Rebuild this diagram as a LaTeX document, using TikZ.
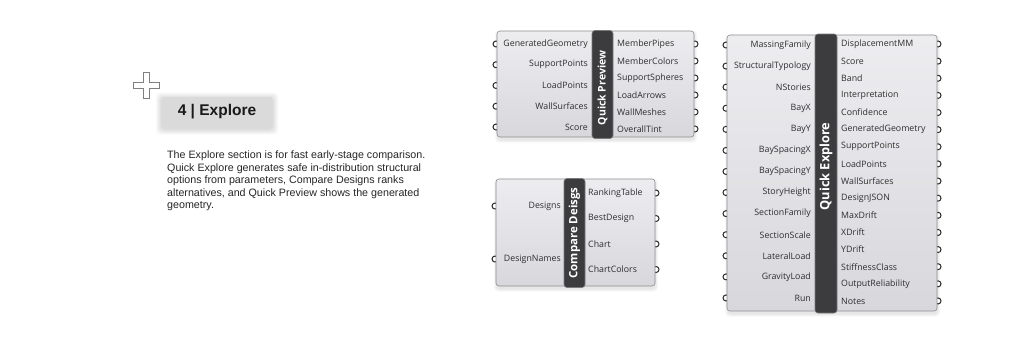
\documentclass[tikz,border=0pt]{standalone}
\usepackage{fontspec}
\setmainfont{Liberation Sans}
\newfontfamily\ghfont{Open Sans}
\definecolor{bodytop}{HTML}{EDEDF0}
\definecolor{bodybot}{HTML}{D8D8DC}
\definecolor{bodyline}{HTML}{8E8E92}
\definecolor{barfill}{HTML}{3C3C3E}
\definecolor{barline}{HTML}{7A7A7C}
\definecolor{labtext}{HTML}{2E2E31}
\definecolor{portline}{HTML}{2A2A2A}
\definecolor{titlebox}{HTML}{DADADA}
\begin{document}
\begin{tikzpicture}[x=1pt,y=-1pt,
  port/.style={circle,draw=portline,line width=1pt,fill=white,inner sep=0pt,minimum size=6pt},
  body/.style={draw=bodyline,line width=0.6pt,rounded corners=3pt,top color=bodytop,bottom color=bodybot,inner sep=0pt},
  namebar/.style={draw=barline,line width=0.6pt,rounded corners=3pt,fill=barfill,inner sep=0pt},
  bartext/.style={text=white,font=\ghfont\bfseries\fontsize{10.5}{12}\selectfont,rotate=90,inner sep=0pt},
  inlab/.style={anchor=east,text=labtext,font=\ghfont\fontsize{8.8}{10}\selectfont,inner sep=0pt},
  outlab/.style={anchor=west,text=labtext,font=\ghfont\fontsize{8.8}{10}\selectfont,inner sep=0pt}
]
\useasboundingbox (0,0) rectangle (1024,341);
\fill[white] (0,0) rectangle (1024,341);

% ---------- left text area ----------
\draw[black!50,line width=0.5pt] (143,72) -- (149,72) -- (149,82) -- (159,82) -- (159,88) -- (149,88) -- (149,98) -- (143,98) -- (143,88) -- (133,88) -- (133,82) -- (143,82) -- cycle;
\foreach \k in {1,...,6}{
  \fill[black,opacity=0.022,rounded corners=4pt] ({162-\k},{97-\k+1.5}) rectangle ({272+\k},{127+\k+1.5});
}
\node[fill=titlebox,minimum width=110pt,minimum height=30pt,inner sep=0pt] (titlebg) at (217,112) {};
\node[font=\bfseries\fontsize{15.5}{18}\selectfont,text=black!90] (title) at (titlebg) {4 | Explore};
\node[anchor=north west,align=left,inner sep=0pt,text=black!85,font=\fontsize{10.7}{12.5}\selectfont] (para) at (167,151)
{The Explore section is for fast early-stage comparison.\\
Quick Explore generates safe in-distribution structural\\
options from parameters, Compare Designs ranks\\
alternatives, and Quick Preview shows the generated\\
geometry.};

% ---------- component shadows ----------
\foreach \k in {1,2,3}{
  \fill[black,opacity=0.03,rounded corners=4pt] ({497-\k+1},{31-\k+2.5}) rectangle ({694+\k},{137+\k+2.5});
  \fill[black,opacity=0.03,rounded corners=4pt] ({496-\k+1},{179-\k+2.5}) rectangle ({655+\k},{286+\k+2.5});
  \fill[black,opacity=0.03,rounded corners=4pt] ({727-\k+1},{35-\k+2.5}) rectangle ({937+\k},{311+\k+2.5});
}

% ---------- Quick Preview ----------
\foreach \i in {1,...,5}{ \node[port] (qpip\i) at (496,{44+(\i-1)*20.75}) {}; }
\foreach \i in {1,...,6}{ \node[port] (qpop\i) at (695,{44+(\i-1)*17}) {}; }
\node[body,minimum width=197pt,minimum height=106pt] (qp) at (595.5,84) {};
\node[namebar,minimum width=21pt,minimum height=108pt] (qpbar) at (602.5,84.5) {};
\node[bartext] (qpname) at ([yshift=-3.5pt]qpbar.center) {Quick Preview};
\foreach \t [count=\i] in {GeneratedGeometry,SupportPoints,LoadPoints,WallSurfaces,Score}{
  \node[inlab] (qpin\i) at (588,{44+(\i-1)*20.75}) {\t};
}
\foreach \t [count=\i] in {MemberPipes,MemberColors,SupportSpheres,LoadArrows,WallMeshes,OverallTint}{
  \node[outlab] (qpout\i) at (617,{44+(\i-1)*17}) {\t};
}

% ---------- Compare Designs ----------
\node[port] (cdip1) at (495,206) {};
\node[port] (cdip2) at (495,259) {};
\foreach \i in {1,...,4}{ \node[port] (cdop\i) at (656,{193+(\i-1)*25.5}) {}; }
\node[body,minimum width=159pt,minimum height=107pt] (cd) at (575.5,232.5) {};
\node[namebar,minimum width=21pt,minimum height=109pt] (cdbar) at (574.5,233) {};
\node[bartext,font=\ghfont\bfseries\fontsize{11.4}{13}\selectfont] (cdname) at (cdbar) {Compare Deisgs};
\node[inlab] (cdin1) at (561,206) {Designs};
\node[inlab] (cdin2) at (561,259) {DesignNames};
\foreach \t [count=\i] in {RankingTable,BestDesign,Chart,ChartColors}{
  \node[outlab] (cdout\i) at (588,{193+(\i-1)*25.5}) {\t};
}

% ---------- Quick Explore ----------
\foreach \i in {1,...,13}{ \node[port] (qeip\i) at (726,{45+(\i-1)*21.08}) {}; }
\foreach \i in {1,...,16}{ \node[port] (qeop\i) at (938,{44+(\i-1)*17.13}) {}; }
\node[body,minimum width=210pt,minimum height=276pt] (qe) at (832,173) {};
\node[namebar,minimum width=22pt,minimum height=279pt] (qebar) at (826,173.5) {};
\node[bartext,font=\ghfont\bfseries\fontsize{12.8}{14}\selectfont] (qename) at ([yshift=7pt]qebar.center) {Quick Explore};
\foreach \t [count=\i] in {MassingFamily,StructuralTypology,NStories,BayX,BayY,BaySpacingX,BaySpacingY,StoryHeight,SectionFamily,SectionScale,LateralLoad,GravityLoad,Run}{
  \node[inlab] (qein\i) at (811,{45+(\i-1)*21.08}) {\t};
}
\foreach \t [count=\i] in {DisplacementMM,Score,Band,Interpretation,Confidence,GeneratedGeometry,SupportPoints,LoadPoints,WallSurfaces,DesignJSON,MaxDrift,XDrift,YDrift,StiffnessClass,OutputReliability,Notes}{
  \node[outlab] (qeout\i) at (841,{44+(\i-1)*17.13}) {\t};
}
\end{tikzpicture}
\end{document}
